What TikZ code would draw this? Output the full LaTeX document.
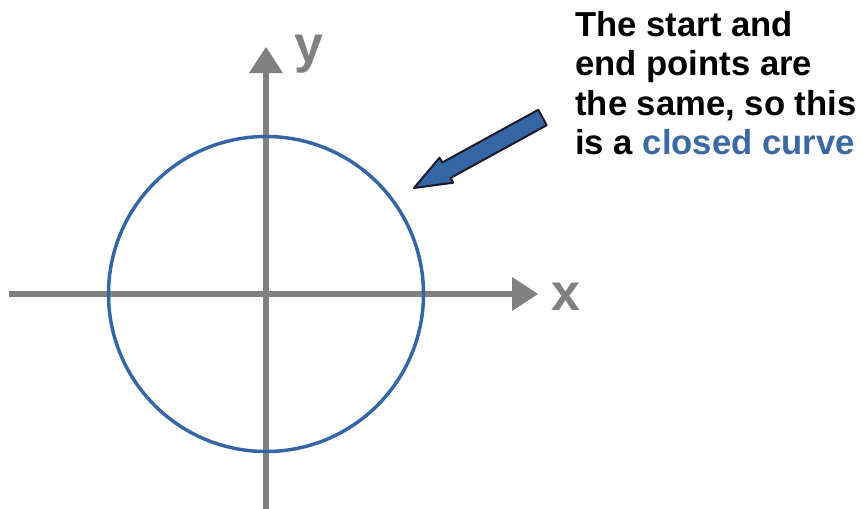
\documentclass[tikz,border=0pt]{standalone}
\usepackage{fontspec}
\setmainfont{Liberation Sans}
\definecolor{axisgray}{HTML}{808080}
\definecolor{curveblue}{HTML}{3465A4}
\definecolor{textblue}{HTML}{3A69A3}
\definecolor{outlinedark}{HTML}{1A1A2A}
\begin{document}
\begin{tikzpicture}[x=0.75pt,y=-0.75pt,
  axis/.style={draw=axisgray,line width=4.5pt},
  axistip/.style={fill=axisgray,draw=none},
  axislabel/.style={text=axisgray,font=\fontsize{39}{40}\selectfont\bfseries,inner sep=0pt,anchor=base},
  note/.style={font=\fontsize{26}{30}\selectfont\bfseries,inner sep=0pt,anchor=base west},
  curve/.style={draw=curveblue,line width=2.6pt},
  callout/.style={fill=curveblue,draw=outlinedark,line width=1.5pt,line join=round}]
\useasboundingbox (0,0) rectangle (862,508);
\coordinate (O) at (266,294);
\coordinate (xstart) at (9,294);
\coordinate (xbase) at (512,294);
\coordinate (ystart) at (266,510);
\coordinate (ybase) at (266,73);
\draw[axis] (xstart) -- (xbase);
\draw[axis] (ystart) -- (ybase);
\fill[axistip] (538,294) -- (512,277) -- (512,311) -- cycle;
\fill[axistip] (266,47) -- (249,73) -- (283,73) -- cycle;
\node[axislabel] (xl) at (566,310) {x};
\node[axislabel] (yl) at (309,62) {y};
\draw[curve] (O) circle[radius=157.5];
\draw[callout] (414,188) -- (453.3,182.7) -- (450.6,177.9) -- (546.7,125.2) -- (538.3,109.8) -- (442.2,162.5) -- (439.5,157.7) -- cycle;
\node[note] (l1) at (575,36) {The start and};
\node[note] (l2) at (575,75.5) {end points are};
\node[note] (l3) at (575,115) {the same, so this};
\node[note] (l4) at (575,154.5) {is a \textcolor{textblue}{closed curve}};
\end{tikzpicture}
\end{document}
